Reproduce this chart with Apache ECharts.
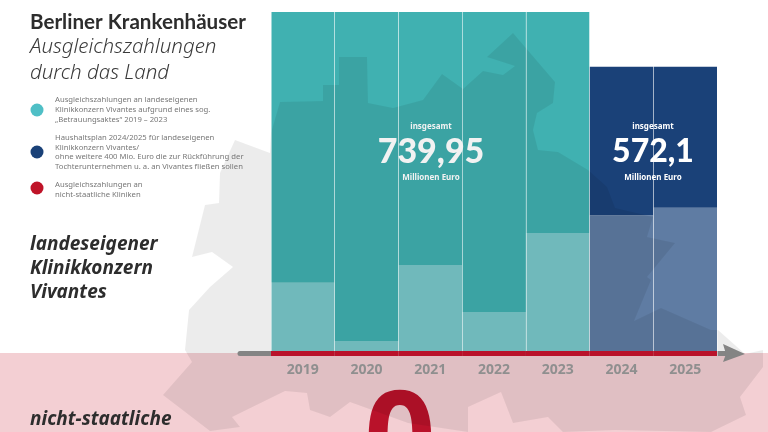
<!DOCTYPE html>
<html>
<head>
<meta charset="utf-8">
<script src="https://cdn.jsdelivr.net/npm/echarts@6/dist/echarts.min.js"></script>
<style>
html, body { margin: 0; padding: 0; background: #fff; }
#main { width: 768px; height: 432px; }
</style>
</head>
<body>
<div id="main"></div>
<script>
// Werte in Mio. Euro
var years = ['2019', '2020', '2021', '2022', '2023', '2024', '2025'];
var betrauungLower = [157, 23, 198, 90, 272, null, null];
var betrauungUpper = [624, 758, 583, 691, 509, null, null];
var haushaltLower = [null, null, null, null, null, 313, 330];
var haushaltUpper = [null, null, null, null, null, 342, 325];
var nichtStaatlich = [0, 0, 0, 0, 0, 0, 0];

var titleText = 'Berliner Krankenhäuser';
var subtitleLines = ['Ausgleichszahlungen', 'durch das Land'];
var legendBetrauung = ['Ausgleichszahlungen an landeseigenen', 'Klinikkonzern Vivantes aufgrund eines sog.', '„Betrauungsaktes“ 2019 – 2023'];
var legendHaushalt = ['Haushaltsplan 2024/2025 für landeseigenen', 'Klinikkonzern Vivantes/', 'ohne weitere 400 Mio. Euro die zur Rückführung der', 'Tochterunternehmen u. a. an Vivantes fließen sollen'];
var legendKliniken = ['Ausgleichszahlungen an', 'nicht-staatliche Kliniken'];
var labelVivantes = ['landeseigener', 'Klinikkonzern', 'Vivantes'];
var labelKliniken = 'nicht-staatliche';
var totalBetrauung = '739,95';
var totalHaushalt = '572,1';

var FONT = '"Noto Sans", sans-serif';
var LATO = 'Lato, sans-serif';
var TEAL = '#40b1b1', TEAL_LIGHT = '#79c8ca', NAVY = '#1a4178', NAVY_LIGHT = '#5f7ca3', RED = '#b9122a';

// Umriss Berlin im Hintergrund (nur Deko)
var berlinShape = [[271, 133], [280, 102], [323, 101], [323, 85], [339, 85], [339, 57], [367, 57], [368, 103], [393, 108], [423, 100], [442, 74], [463, 89], [483, 71], [503, 75], [515, 66], [487, 57], [513, 33], [555, 82], [553, 103], [537, 113], [533, 130], [538, 150], [558, 152], [588, 170], [607, 187], [615, 208], [653, 217], [647, 237], [675, 243], [647, 277], [651, 280], [634, 321], [661, 308], [711, 330], [718, 330], [745, 354], [763, 350], [763, 367], [740, 397], [746, 415], [711, 432], [615, 430], [563, 432], [548, 417], [513, 423], [501, 392], [468, 407], [468, 432], [408, 423], [350, 402], [330, 417], [310, 410], [307, 393], [285, 391], [232, 417], [240, 427], [210, 431], [163, 395], [192, 362], [185, 350], [189, 310], [210, 287], [233, 267], [212, 252], [192, 257], [205, 205], [219, 203], [220, 173], [235, 140], [270, 153]];

function txt(text, x, y, font, fill, align) {
    return {
        type: 'text', z: 10,
        style: { text: text, x: x, y: y, font: font, fill: fill, textAlign: align || 'left', textVerticalAlign: 'middle' }
    };
}

function lines(list, x, ys, font, fill) {
    return list.map(function(t, i) { return txt(t, x, ys[i], font, fill); });
}

function dot(y, color) {
    return { type: 'circle', z: 10, shape: { cx: 37, cy: y, r: 6.5 }, style: { fill: color } };
}

var legendFont = '7.7px ' + FONT;
var graphics = [
    { type: 'rect', z: 0, shape: { x: 0, y: 353, width: 768, height: 79 }, style: { fill: '#f3cfd3' } },
    { type: 'line', z: 1, shape: { x1: 240, y1: 353.5, x2: 730, y2: 353.5 }, style: { stroke: '#8f8f8f', lineWidth: 5, lineCap: 'round' } },
    { type: 'polygon', z: 1, shape: { points: [[723, 344], [745, 354], [723, 362], [726, 354]] }, style: { fill: '#8f8f8f' } },
    { type: 'text', z: 3, style: { text: '0', x: 400, y: 445, font: 'bold 125px ' + FONT, fill: RED, textAlign: 'center', textVerticalAlign: 'middle' } },
    { type: 'polygon', z: 5, shape: { points: berlinShape }, style: { fill: 'rgba(0,0,0,0.075)' } },
    txt(titleText, 30, 22, 'bold 20.6px ' + LATO, '#2d2d2d'),
    txt(subtitleLines[0], 30, 47, 'italic 300 20.5px ' + FONT, '#3a3a3a'),
    txt(subtitleLines[1], 30, 73, 'italic 300 20.5px ' + FONT, '#3a3a3a'),
    dot(110, '#4fbfc6'), dot(152, NAVY), dot(188, '#bf1328'),
    txt(totalBetrauung, 431, 152, '900 34px ' + LATO, '#f2f2f2', 'center'),
    txt('insgesamt', 431, 127, 'bold 8px ' + FONT, '#f2f2f2', 'center'),
    txt('Millionen Euro', 431, 178, 'bold 8px ' + FONT, '#f2f2f2', 'center'),
    txt(totalHaushalt, 653, 152, '900 32px ' + LATO, '#ffffff', 'center'),
    txt('insgesamt', 653, 127, 'bold 8px ' + FONT, '#ffffff', 'center'),
    txt('Millionen Euro', 653, 178, 'bold 8px ' + FONT, '#ffffff', 'center'),
    txt(labelKliniken, 30, 420, 'italic bold 19px ' + FONT, '#2d2d2d')
].concat(
    lines(legendBetrauung, 55, [100, 110, 120], legendFont, '#777'),
    lines(legendHaushalt, 55, [138, 148, 157, 167], legendFont, '#777'),
    lines(legendKliniken, 55, [185, 195], legendFont, '#777'),
    lines(labelVivantes, 30, [245, 269, 293], 'italic bold 19px ' + FONT, '#2d2d2d')
);

var myChart = echarts.init(document.getElementById('main'));
var option = {
    animation: false,
    backgroundColor: '#fff',
    graphic: { elements: graphics },
    grid: { left: 271, right: 51, top: 12, bottom: 76 },
    xAxis: {
        type: 'category',
        data: years,
        z: 6,
        axisLine: { show: false },
        axisTick: { show: false },
        splitLine: { show: true, interval: 0, lineStyle: { color: 'rgba(255,255,255,0.5)', width: 1 } },
        axisLabel: { margin: 7, color: '#8f8f8f', fontFamily: FONT, fontWeight: 'bold', fontSize: 14 }
    },
    yAxis: [
        { type: 'value', min: -11.5, max: 781, show: false, splitLine: { show: false } },
        { type: 'value', min: 0, max: 1, show: false, splitLine: { show: false } }
    ],
    series: [
        { name: 'Betrauungsakt', type: 'bar', stack: 'viv', barCategoryGap: 0, barGap: '-100%', itemStyle: { color: TEAL_LIGHT }, data: betrauungLower },
        { name: 'Betrauungsakt oben', type: 'bar', stack: 'viv', itemStyle: { color: TEAL }, data: betrauungUpper },
        { name: 'Haushaltsplan', type: 'bar', stack: 'viv', itemStyle: { color: NAVY_LIGHT }, data: haushaltLower },
        { name: 'Haushaltsplan oben', type: 'bar', stack: 'viv', itemStyle: { color: NAVY }, data: haushaltUpper },
        { name: 'nicht-staatliche Kliniken', type: 'bar', stack: 'rot', yAxisIndex: 1, z: 7, barMinHeight: 5, itemStyle: { color: RED }, data: nichtStaatlich }
    ]
};
myChart.setOption(option);
</script>
</body>
</html>
